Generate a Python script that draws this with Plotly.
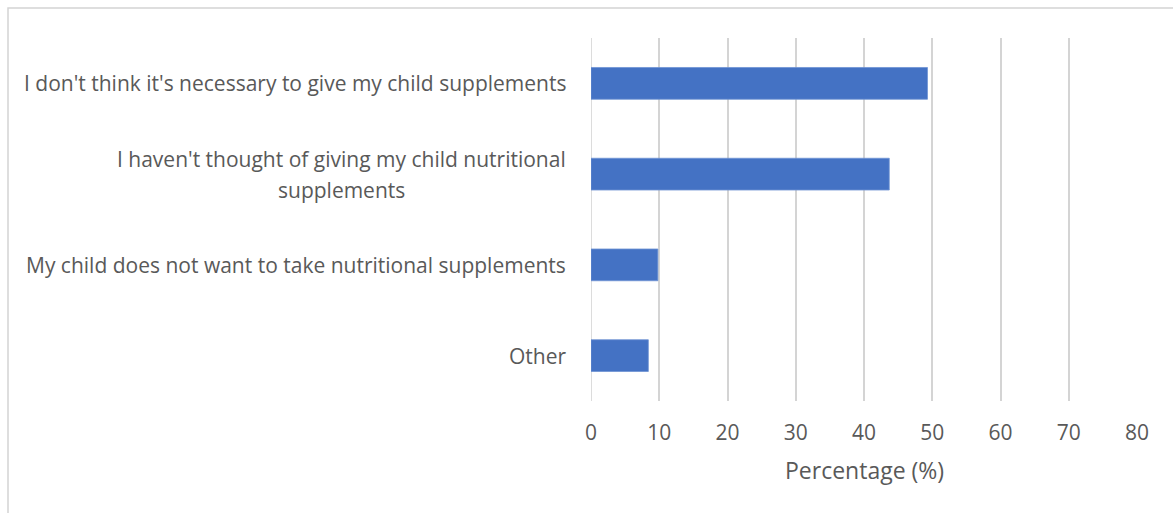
import plotly.graph_objects as go

# Reasons for not giving children nutritional supplements
categories = [
    "I don't think it's necessary to give my child supplements",
    "I haven't thought of giving my child nutritional supplements",
    "My child does not want to take nutritional supplements",
    "Other",
]
percentages = [49.3, 43.7, 9.8, 8.4]
x_ticks = [0, 10, 20, 30, 40, 50, 60, 70, 80]

# Display text for the category labels (long ones split over two lines)
label_lines = [
    ["I don't think it's necessary to give my child supplements"],
    ["I haven't thought of giving my child nutritional", "supplements"],
    ["My child does not want to take nutritional supplements"],
    ["Other"],
]

FONT = "Open Sans"
TEXT_COLOR = "#595959"
GRID_COLOR = "#d4d4d4"
LABEL_SIZE = 21

W, H = 1173, 513
L, R, T, B = 591, 36, 38, 112
plot_w = W - L - R
plot_h = H - T - B
LABEL_RIGHT = 568       # right edge of category labels (px)
WRAP_CENTER = 341.5     # centre of two-line category label (px)
LINE_GAP = 15.5         # half the spacing between wrapped lines (px)

fig = go.Figure(
    go.Bar(
        x=percentages,
        y=categories,
        orientation="h",
        width=0.35,
        marker=dict(color="#4472C4", line=dict(color="#6f93d3", width=0.8)),
        hoverinfo="x+y",
    )
)

label_font = dict(family=FONT, size=LABEL_SIZE, color=TEXT_COLOR)
annotations = []
for cat, lines in zip(categories, label_lines):
    if len(lines) == 1:
        annotations.append(dict(
            x=0, xref="paper", y=cat, yref="y", text=lines[0],
            xanchor="right", yanchor="middle", xshift=LABEL_RIGHT - L,
            showarrow=False, font=label_font,
        ))
    else:
        annotations.append(dict(
            x=0, xref="paper", y=cat, yref="y", text=lines[0],
            xanchor="right", yanchor="middle", xshift=LABEL_RIGHT - L,
            yshift=LINE_GAP, showarrow=False, font=label_font,
        ))
        annotations.append(dict(
            x=0, xref="paper", y=cat, yref="y", text=lines[1],
            xanchor="center", yanchor="middle", xshift=WRAP_CENTER - L,
            yshift=-LINE_GAP, showarrow=False, font=label_font,
        ))

# Axis title
annotations.append(dict(
    x=0.5, xref="paper", y=(H - B - 470) / plot_h, yref="paper",
    text="Percentage (%)", xanchor="center", yanchor="middle", showarrow=False,
    font=dict(family=FONT, size=23, color=TEXT_COLOR),
))

fig.update_layout(
    width=W, height=H,
    margin=dict(l=L, r=R, t=T, b=B),
    paper_bgcolor="white", plot_bgcolor="white",
    showlegend=False,
    annotations=annotations,
    xaxis=dict(
        range=[0, 80], tickvals=x_ticks, ticktext=[str(v) for v in x_ticks],
        showgrid=True, gridcolor=GRID_COLOR, gridwidth=1.6,
        zeroline=False, showline=False, ticks="",
        ticklabelstandoff=17,
        tickfont=dict(family=FONT, size=21, color=TEXT_COLOR),
        fixedrange=True,
    ),
    yaxis=dict(
        categoryorder="array", categoryarray=categories, autorange="reversed",
        showticklabels=False, showgrid=False, zeroline=False, showline=False,
        fixedrange=True,
    ),
    shapes=[
        # left zero gridline
        dict(type="line", xref="x", yref="paper", x0=0, x1=0, y0=0, y1=1,
             line=dict(color=GRID_COLOR, width=1.6), layer="below"),
        # chart area border
        dict(type="rect", xref="paper", yref="paper",
             x0=(8 - L) / plot_w, x1=2.0,
             y0=-1.0, y1=(H - B - 8) / plot_h,
             line=dict(color=GRID_COLOR, width=1.5), layer="below"),
    ],
)

fig.write_html("out.html")
